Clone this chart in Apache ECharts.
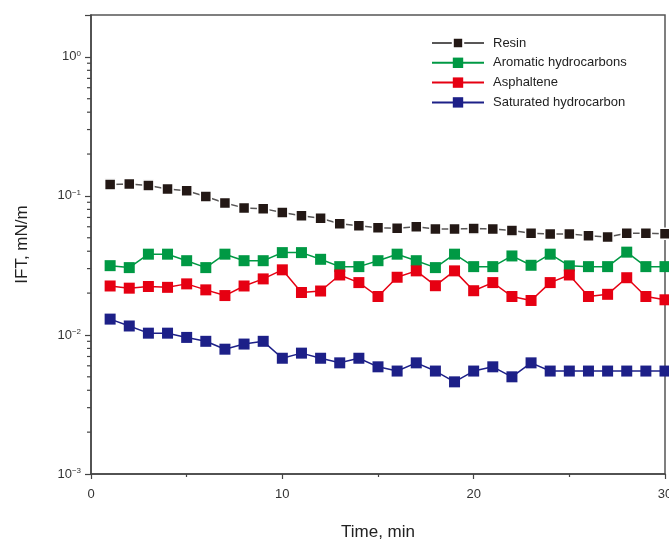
<!DOCTYPE html>
<html>
<head>
<meta charset="utf-8">
<script src="https://cdn.jsdelivr.net/npm/echarts@6/dist/echarts.min.js"></script>
<style>html,body{margin:0;padding:0;background:#fff;}#c{width:669px;height:540px;}</style>
</head>
<body>
<div id="c"></div>
<script>
var times = [1,2,3,4,5,6,7,8,9,10,11,12,13,14,15,16,17,18,19,20,21,22,23,24,25,26,27,28,29,30];
var resin = [0.121,0.122,0.119,0.112,0.109,0.099,0.089,0.082,0.081,0.076,0.072,0.069,0.063,0.061,0.059,0.0586,0.060,0.0579,0.0579,0.0582,0.0579,0.0563,0.0539,0.0533,0.0533,0.0518,0.0507,0.0539,0.0539,0.0535];
var aromatic = [0.0315,0.0305,0.0381,0.0381,0.0342,0.0305,0.0381,0.0342,0.0342,0.0391,0.0391,0.0350,0.0310,0.0310,0.0342,0.0381,0.0342,0.0305,0.0381,0.0310,0.0310,0.0370,0.0317,0.0381,0.0314,0.0310,0.0310,0.0394,0.0310,0.0310];
var asphaltene = [0.0225,0.0217,0.0223,0.0220,0.0233,0.0211,0.0192,0.0225,0.0253,0.0294,0.0202,0.0207,0.0270,0.0238,0.0189,0.0260,0.0289,0.0226,0.0289,0.0208,0.0238,0.0189,0.0177,0.0238,0.0270,0.0189,0.0196,0.0258,0.0189,0.0179];
var saturated = [0.0130,0.0116,0.0103,0.0103,0.0096,0.0090,0.0079,0.0086,0.0090,0.0068,0.0074,0.0068,0.0063,0.0068,0.0059,0.0055,0.0063,0.0055,0.0046,0.0055,0.0059,0.0050,0.0063,0.0055,0.0055,0.0055,0.0055,0.0055,0.0055,0.0055];
var seriesNames = ['Resin','Aromatic hydrocarbons','Asphaltene','Saturated hydrocarbon'];
var xTicks = [0,10,20,30];
var yMinorTickValues = [];
[0.001,0.01,0.1].forEach(function(d){ for (var m=2;m<=9;m++) yMinorTickValues.push(+(m*d).toPrecision(3)); });

function pairs(arr){ return arr.map(function(v,i){ return [times[i], v]; }); }
var font = '"Liberation Sans", Arial, sans-serif';
var supMap = {'0':'0','1':'−1','2':'−2','3':'−3'};

var chart = echarts.init(document.getElementById('c'), null, {renderer:'canvas'});
chart.setOption({
  animation: false,
  backgroundColor: '#fff',
  grid: {left: 91, right: 4, top: 15, bottom: 66, show: true, borderColor: '#555', borderWidth: 1.5,
    backgroundColor: 'transparent', containLabel: false, outerBoundsMode: 'none'},
  legend: {
    data: seriesNames,
    orient: 'vertical',
    left: 431, top: 36, padding: 0,
    itemWidth: 52, itemHeight: 13, itemGap: 5.8,
    textStyle: {fontFamily: font, fontSize: 13, color: '#222', lineHeight: 14, padding: [0,0,0,4]}
  },
  xAxis: {
    type: 'value', min: 0, max: 30, interval: 10,
    name: 'Time, min', nameLocation: 'middle', nameGap: 50,
    nameTextStyle: {fontFamily: font, fontSize: 17, color: '#222'},
    axisLine: {show: true, lineStyle: {color: '#444', width: 1.5}},
    axisTick: {show: true, inside: false, length: 5, lineStyle: {color: '#444', width: 1.2}},
    minorTick: {show: true, splitNumber: 2, length: 3, lineStyle: {color: '#444', width: 1.2}},
    axisLabel: {fontFamily: font, fontSize: 13, color: '#333', margin: 14, showMaxLabel: true, hideOverlap: false,
      formatter: function(v){ return xTicks.indexOf(v) >= 0 ? String(v) : ''; }},
    splitLine: {show: false}
  },
  yAxis: {
    type: 'log', logBase: 10, min: 0.001, max: 2,
    name: 'IFT, mN/m', nameLocation: 'middle', nameGap: 60, nameRotate: 90,
    nameTextStyle: {fontFamily: font, fontSize: 17, color: '#222'},
    axisLine: {show: true, lineStyle: {color: '#444', width: 1.5}},
    axisTick: {show: true, inside: false, length: 6, lineStyle: {color: '#444', width: 1.2}},
    axisLabel: {fontFamily: font, color: '#333', margin: 10,
      formatter: function(v){
        var e = Math.log10(v);
        if (Math.abs(e - Math.round(e)) > 1e-6) return '';
        var k = String(-Math.round(e));
        return '{b|10}{s|' + supMap[k] + '}';
      },
      rich: {
        b: {fontFamily: font, fontSize: 13, color: '#333'},
        s: {fontFamily: font, fontSize: 8, color: '#333', padding: [0,0,7,0]}
      }
    },
    splitLine: {show: false}
  },
  series: [
    {name: 'Resin', type: 'line', data: pairs(resin), symbol: 'rect', symbolSize: 11,
      itemStyle: {color: '#231815', borderColor: '#fff', borderWidth: 1.5},
      lineStyle: {color: '#595757', width: 1.5}},
    {name: 'Aromatic hydrocarbons', type: 'line', data: pairs(aromatic), symbol: 'rect', symbolSize: 11,
      itemStyle: {color: '#009944'}, lineStyle: {color: '#009944', width: 1.5}},
    {name: 'Asphaltene', type: 'line', data: pairs(asphaltene), symbol: 'rect', symbolSize: 11,
      itemStyle: {color: '#e60012'}, lineStyle: {color: '#e60012', width: 1.5}},
    {name: 'Saturated hydrocarbon', type: 'line', data: pairs(saturated), symbol: 'rect', symbolSize: 11,
      itemStyle: {color: '#1d2088'}, lineStyle: {color: '#1d2088', width: 1.5}},
    {name: 'yMinorTicks', type: 'custom', silent: true, clip: false,
      data: yMinorTickValues.map(function(v){ return [0, v]; }),
      renderItem: function(params, api){
        var p = api.coord([0, api.value(1)]);
        return {type: 'line', shape: {x1: p[0] - 4, y1: p[1], x2: p[0], y2: p[1]},
          style: {stroke: '#444', lineWidth: 1.2}};
      }}
  ]
});
</script>
</body>
</html>
